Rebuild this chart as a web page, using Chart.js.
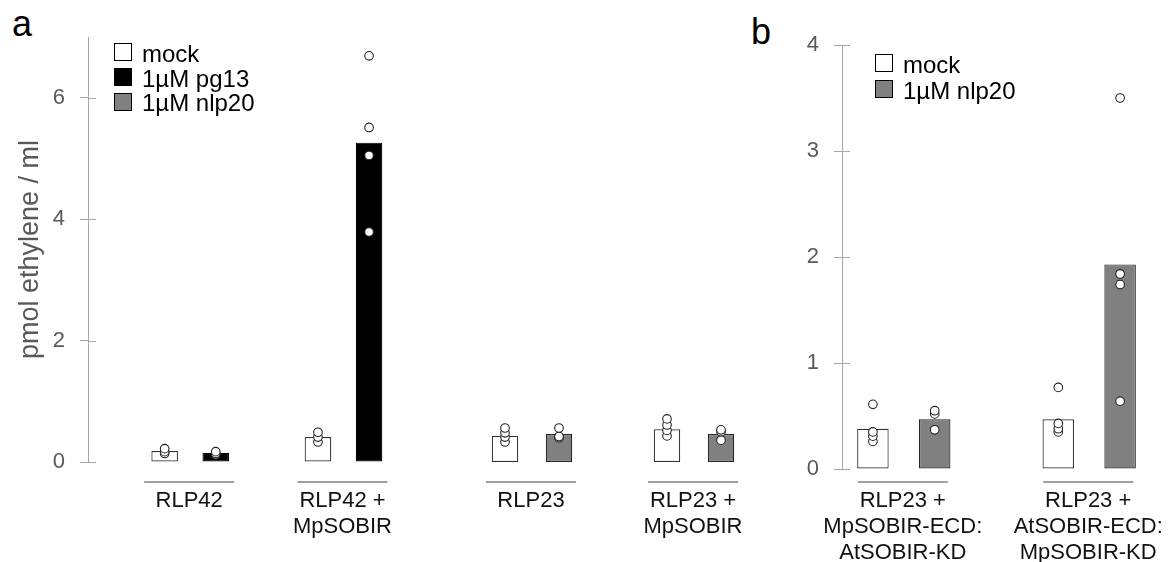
<!DOCTYPE html>
<html>
<head>
<meta charset="utf-8">
<script src="https://cdn.jsdelivr.net/npm/chart.js@4"></script>
<style>
  body { margin: 0; width: 1172px; height: 562px; position: relative; background: #fff; overflow: hidden;
         font-family: "Liberation Sans", Arial, sans-serif; }
  canvas { position: absolute; top: 0; }
  .panel { position: absolute; font-size: 36px; line-height: 36px; color: #000; }
  .leg { position: absolute; font-size: 24px; line-height: 24px; color: #000; white-space: nowrap; }
  .sw { position: absolute; width: 16px; height: 16px; border: 1.5px solid #000; }
</style>
</head>
<body>
<div class="panel" style="left:12px; top:6px">a</div>
<div class="panel" style="left:751px; top:14px">b</div>
<canvas id="chartA1" width="400" height="562" style="left:0px"></canvas>
<canvas id="chartA2" width="360" height="562" style="left:400px"></canvas>
<canvas id="chartB" width="412" height="562" style="left:760px"></canvas>
<div id="legends"></div>
<script>
// panel a
const groupsA = [['RLP42'], ['RLP42 +', 'MpSOBIR'], ['RLP23'], ['RLP23 +', 'MpSOBIR']];
const treatA = ['1µM pg13', '1µM pg13', '1µM nlp20', '1µM nlp20'];
const mockA = [0.18, 0.41, 0.43, 0.54];
const treatValsA = [0.15, 5.26, 0.46, 0.46];
const mockDotsA = [[0.22, 0.17, 0.14], [0.49, 0.41, 0.33], [0.56, 0.48, 0.41, 0.33], [0.71, 0.61, 0.52, 0.43]];
const treatDotsA = [[0.17, 0.14, 0.12], [6.69, 5.51, 5.05, 3.79], [0.56, 0.42, 0.40], [0.53, 0.50, 0.36]];
const ticksA = [0, 2, 4, 6];
const legendA = ['mock', '1µM pg13', '1µM nlp20'];

// panel b
const groupsB = [['RLP23 +', 'MpSOBIR-ECD:', 'AtSOBIR-KD'], ['RLP23 +', 'AtSOBIR-ECD:', 'MpSOBIR-KD']];
const treatB = ['1µM nlp20', '1µM nlp20'];
const mockB = [0.38, 0.47];
const treatValsB = [0.47, 1.93];
const mockDotsB = [[0.61, 0.35, 0.31, 0.26], [0.77, 0.43, 0.38, 0.35]];
const treatDotsB = [[0.55, 0.52, 0.37], [3.50, 1.84, 1.74, 0.64]];
const ticksB = [0, 1, 2, 3, 4];
const legendB = ['mock', '1µM nlp20'];

const fills = { 'mock': '#ffffff', '1µM pg13': '#000000', '1µM nlp20': '#808080' };
const edges = { 'mock': '#333333', '1µM pg13': '#000000', '1µM nlp20': '#262626' };
const FONT = '"Liberation Sans", Arial, sans-serif';

// one category per bar, empty categories make the gaps between groups
function buildSlots(groupIdx, groups, treat, mock, tv, md, td, leadGap) {
  const slots = [], labelGroups = [];
  if (leadGap) slots.push(null);
  groupIdx.forEach((g, k) => {
    if (k > 0) slots.push(null);
    const i0 = slots.length;
    slots.push({ name: 'mock', v: mock[g], dots: md[g] });
    slots.push({ name: treat[g], v: tv[g], dots: td[g] });
    labelGroups.push({ i0: i0, i1: i0 + 1, lines: groups[g] });
  });
  return { slots, labelGroups };
}

const groupLabels = {
  id: 'groupLabels',
  afterDraw(chart, args, opts) {
    const ctx = chart.ctx, x = chart.scales.x;
    opts.groups.forEach(gr => {
      const cx = (x.getPixelForValue(gr.i0) + x.getPixelForValue(gr.i1)) / 2;
      ctx.save();
      ctx.strokeStyle = '#808080';
      ctx.lineWidth = 1.6;
      ctx.beginPath();
      ctx.moveTo(cx - 46, 482);
      ctx.lineTo(cx + 44, 482);
      ctx.stroke();
      ctx.fillStyle = '#111';
      ctx.font = '22px ' + FONT;
      ctx.textAlign = 'center';
      ctx.textBaseline = 'alphabetic';
      gr.lines.forEach((t, k) => ctx.fillText(t, cx - 1, 507 + k * 25.8));
      ctx.restore();
    });
  }
};

// ticks cross the axis: add the part inside the plot area
const innerTicks = {
  id: 'innerTicks',
  afterDraw(chart) {
    const y = chart.scales.y;
    if (!y.options.display) return;
    const ctx = chart.ctx, left = chart.chartArea.left;
    ctx.save();
    ctx.strokeStyle = '#a6a6a6';
    ctx.lineWidth = 1;
    ctx.beginPath();
    y.ticks.forEach(t => {
      const py = Math.round(y.getPixelForValue(t.value)) + 0.5;
      ctx.moveTo(left, py);
      ctx.lineTo(left + 8, py);
    });
    ctx.stroke();
    ctx.restore();
  }
};

function makeChart(id, cfg) {
  const slots = cfg.slots;
  const datasets = [{
    type: 'bar',
    data: slots.map(s => s ? s.v : null),
    backgroundColor: slots.map(s => s ? fills[s.name] : 'transparent'),
    borderColor: slots.map(s => s ? edges[s.name] : 'transparent'),
    borderWidth: 1.2,
    borderSkipped: false,
    barPercentage: cfg.barPct,
    categoryPercentage: 1,
    order: 2
  }];
  for (let r = 0; r < 4; r++) {
    datasets.push({
      type: 'line',
      data: slots.map(s => (s && s.dots[r] !== undefined) ? s.dots[r] : null),
      showLine: false,
      pointRadius: 4.3,
      pointBackgroundColor: '#ffffff',
      pointBorderColor: '#222222',
      pointBorderWidth: 1.1,
      order: 1
    });
  }
  return new Chart(document.getElementById(id), {
    data: { labels: slots.map((s, i) => 's' + i), datasets },
    options: {
      responsive: false,
      animation: false,
      devicePixelRatio: 1,
      events: [],
      layout: { padding: cfg.padding },
      plugins: {
        legend: { display: false },
        tooltip: { enabled: false },
        groupLabels: { groups: cfg.labelGroups }
      },
      scales: {
        x: { display: false, offset: true },
        y: {
          display: cfg.showY,
          min: 0,
          max: cfg.yMax,
          afterBuildTicks: s => { s.ticks = cfg.ticks.map(v => ({ value: v })); },
          afterFit: s => { s.width = cfg.yWidth; },
          ticks: { color: '#595959', font: { family: FONT, size: 22 }, padding: 15 },
          grid: { display: true, drawOnChartArea: false, drawTicks: true, tickLength: 8, color: '#a6a6a6' },
          border: { display: true, color: '#a6a6a6', width: 1 },
          title: {
            display: !!cfg.title,
            text: cfg.title || '',
            color: '#595959',
            font: { family: FONT, size: 27 },
            padding: { top: 14, bottom: 0 }
          }
        }
      }
    },
    plugins: [groupLabels, innerTicks]
  });
}

const a1 = buildSlots([0, 1], groupsA, treatA, mockA, treatValsA, mockDotsA, treatDotsA, true);
const a2 = buildSlots([2, 3], groupsA, treatA, mockA, treatValsA, mockDotsA, treatDotsA, false);
const b = buildSlots([0, 1], groupsB, treatB, mockB, treatValsB, mockDotsB, treatDotsB, false);

makeChart('chartA1', { ...a1, yMax: 7, ticks: ticksA, yWidth: 88, showY: true,
  title: 'pmol ethylene / ml', barPct: 0.52, padding: { left: 0, top: 37, right: 2, bottom: 100 } });
makeChart('chartA2', { ...a2, yMax: 7, ticks: ticksA, yWidth: 0, showY: false,
  barPct: 0.49, padding: { left: 78, top: 37, right: 12, bottom: 100 } });
makeChart('chartB', { ...b, yMax: 4, ticks: ticksB, yWidth: 82, showY: true,
  barPct: 0.51, padding: { left: 0, top: 45, right: 21, bottom: 93 } });

// legends
function addLegend(items, x, top, step) {
  const box = document.getElementById('legends');
  items.forEach((name, k) => {
    const sw = document.createElement('div');
    sw.className = 'sw';
    sw.style.left = x + 'px';
    sw.style.top = (top + k * step) + 'px';
    sw.style.background = fills[name];
    box.appendChild(sw);
    const t = document.createElement('div');
    t.className = 'leg';
    t.style.left = (x + 28) + 'px';
    t.style.top = (top - 1.3 + k * step) + 'px';
    t.textContent = name;
    box.appendChild(t);
  });
}
addLegend(legendA, 114, 43, 24.8);
addLegend(legendB, 875, 54, 26);
</script>
</body>
</html>
